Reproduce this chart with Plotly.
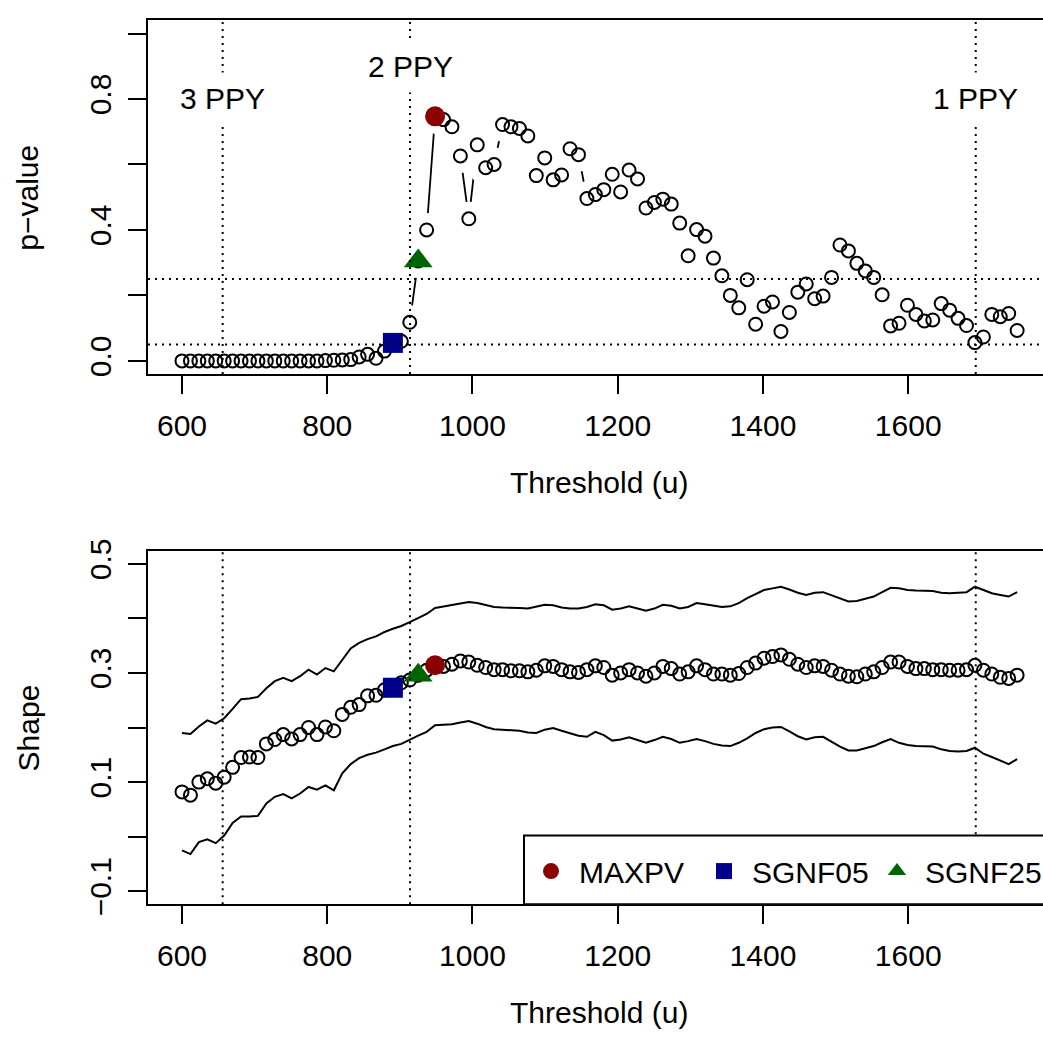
import plotly.graph_objects as go

# ---------------- data ----------------
threshold = [round(600 + i * 1150 / 99, 3) for i in range(100)]

pvalue = [
    0.000, 0.000, 0.000, 0.000, 0.000, 0.000, 0.000, 0.000, 0.000, 0.000,
    0.000, 0.000, 0.000, 0.000, 0.000, 0.000, 0.000, 0.001, 0.002, 0.003,
    0.004, 0.012, 0.020, 0.008, 0.030, 0.055, 0.060, 0.118, 0.305, 0.400,
    0.747, 0.737, 0.715, 0.626, 0.434, 0.660, 0.590, 0.600, 0.722, 0.715,
    0.710, 0.687, 0.566, 0.620, 0.553, 0.568, 0.648, 0.630, 0.496, 0.508,
    0.523, 0.570, 0.516, 0.583, 0.556, 0.467, 0.484, 0.494, 0.479, 0.421,
    0.321, 0.401, 0.381, 0.314, 0.260, 0.200, 0.162, 0.248, 0.112, 0.167,
    0.180, 0.090, 0.148, 0.210, 0.235, 0.190, 0.198, 0.255, 0.354, 0.336,
    0.298, 0.275, 0.255, 0.202, 0.107, 0.115, 0.170, 0.142, 0.122, 0.125,
    0.175, 0.155, 0.130, 0.108, 0.056, 0.073, 0.142, 0.135, 0.145, 0.093,
]

shape = [
    0.082, 0.076, 0.100, 0.106, 0.098, 0.109, 0.127, 0.145, 0.146, 0.145,
    0.170, 0.178, 0.187, 0.179, 0.187, 0.200, 0.187, 0.201, 0.194, 0.224,
    0.237, 0.242, 0.258, 0.259, 0.269, 0.273, 0.282, 0.287, 0.296, 0.305,
    0.314, 0.312, 0.316, 0.322, 0.320, 0.314, 0.310, 0.306, 0.306, 0.304,
    0.304, 0.302, 0.305, 0.313, 0.312, 0.306, 0.302, 0.301, 0.306, 0.313,
    0.310, 0.296, 0.300, 0.306, 0.300, 0.294, 0.300, 0.312, 0.308, 0.298,
    0.302, 0.313, 0.306, 0.298, 0.298, 0.296, 0.299, 0.310, 0.318, 0.327,
    0.330, 0.333, 0.325, 0.316, 0.310, 0.313, 0.312, 0.305, 0.298, 0.294,
    0.293, 0.298, 0.302, 0.310, 0.320, 0.320, 0.312, 0.308, 0.308, 0.306,
    0.306, 0.305, 0.305, 0.306, 0.314, 0.305, 0.298, 0.292, 0.290, 0.296,
]

shape_upper = [
    0.190, 0.188, 0.202, 0.213, 0.207, 0.217, 0.234, 0.252, 0.253, 0.256,
    0.272, 0.285, 0.291, 0.285, 0.294, 0.306, 0.297, 0.309, 0.303, 0.324,
    0.345, 0.355, 0.362, 0.367, 0.375, 0.381, 0.386, 0.393, 0.400, 0.408,
    0.419, 0.422, 0.425, 0.428, 0.430, 0.428, 0.425, 0.421, 0.420, 0.420,
    0.419, 0.418, 0.421, 0.425, 0.424, 0.420, 0.418, 0.418, 0.421, 0.426,
    0.424, 0.416, 0.418, 0.422, 0.418, 0.414, 0.418, 0.425, 0.423, 0.418,
    0.421, 0.428, 0.426, 0.423, 0.421, 0.422, 0.428, 0.437, 0.445, 0.452,
    0.455, 0.458, 0.453, 0.447, 0.443, 0.447, 0.448, 0.442, 0.436, 0.431,
    0.432, 0.436, 0.440, 0.448, 0.456, 0.455, 0.452, 0.451, 0.450, 0.450,
    0.447, 0.446, 0.447, 0.448, 0.458, 0.452, 0.446, 0.443, 0.440, 0.448,
]

shape_lower = [
    -0.025, -0.032, -0.010, -0.005, -0.012, 0.002, 0.025, 0.037, 0.037, 0.038,
    0.061, 0.073, 0.078, 0.070, 0.079, 0.091, 0.086, 0.094, 0.085, 0.116,
    0.133, 0.144, 0.150, 0.154, 0.160, 0.166, 0.170, 0.178, 0.185, 0.192,
    0.204, 0.205, 0.206, 0.209, 0.212, 0.207, 0.201, 0.197, 0.196, 0.196,
    0.194, 0.191, 0.190, 0.196, 0.199, 0.194, 0.189, 0.185, 0.183, 0.192,
    0.186, 0.176, 0.178, 0.182, 0.177, 0.172, 0.177, 0.183, 0.179, 0.172,
    0.175, 0.179, 0.175, 0.170, 0.167, 0.166, 0.172, 0.180, 0.190, 0.197,
    0.200, 0.201, 0.193, 0.184, 0.178, 0.182, 0.183, 0.174, 0.165, 0.158,
    0.158, 0.162, 0.166, 0.173, 0.179, 0.172, 0.168, 0.166, 0.165, 0.165,
    0.160, 0.157, 0.156, 0.157, 0.163, 0.152, 0.146, 0.140, 0.133, 0.142,
]

# selected thresholds (indices into the threshold grid)
selected_names = ["MAXPV", "SGNF05", "SGNF25"]
selected_index = [30, 25, 28]
selected_colors = ["#8B0000", "#00008B", "#006400"]
selected_symbols = ["circle", "square", "triangle-up"]
selected_sizes = [20, 20, 25]

ppy_labels = ["3 PPY", "2 PPY", "1 PPY"]
ppy_thresholds = [656, 914, 1693]
ppy_label_y = [0.80, 0.90, 0.80]

pvalue_levels = [0.05, 0.25]

x_ticks = [600, 800, 1000, 1200, 1400, 1600]
p_ticks = [0.0, 0.2, 0.4, 0.6, 0.8, 1.0]
p_ticktext = ["0.0", "", "0.4", "", "0.8", ""]
s_ticks = [-0.1, 0.0, 0.1, 0.2, 0.3, 0.4, 0.5]
s_ticktext = ["\u22120.1", "", "0.1", "", "0.3", "", "0.5"]

# ---------------- figure ----------------
W, H = 1043, 1059
FONT = "Liberation Sans"
FS = 30

fig = go.Figure()

def add_b_series(xs, ys, xa, ya):
    # R type="b": lines with gaps around points
    fig.add_trace(go.Scatter(x=xs, y=ys, mode="lines", xaxis=xa, yaxis=ya,
                             line=dict(color="black", width=1.8),
                             showlegend=False, hoverinfo="skip"))
    fig.add_trace(go.Scatter(x=xs, y=ys, mode="markers", xaxis=xa, yaxis=ya,
                             marker=dict(symbol="circle", size=34, color="white",
                                         line=dict(width=0)),
                             showlegend=False, hoverinfo="skip"))
    fig.add_trace(go.Scatter(x=xs, y=ys, mode="markers", xaxis=xa, yaxis=ya,
                             marker=dict(symbol="circle-open", size=13, color="black",
                                         line=dict(width=2, color="black")),
                             showlegend=False))

# top panel
add_b_series(threshold, pvalue, "x", "y")
# bottom panel: confidence band lines
fig.add_trace(go.Scatter(x=threshold, y=shape_upper, mode="lines", xaxis="x2", yaxis="y2",
                         line=dict(color="black", width=2), showlegend=False))
fig.add_trace(go.Scatter(x=threshold, y=shape_lower, mode="lines", xaxis="x2", yaxis="y2",
                         line=dict(color="black", width=2), showlegend=False))
add_b_series(threshold, shape, "x2", "y2")

for name, idx, col, sym, sz in zip(selected_names, selected_index, selected_colors,
                                   selected_symbols, selected_sizes):
    fig.add_trace(go.Scatter(x=[threshold[idx]], y=[pvalue[idx]], mode="markers",
                             xaxis="x", yaxis="y",
                             marker=dict(symbol=sym, size=sz, color=col),
                             showlegend=False, name=name))
    fig.add_trace(go.Scatter(x=[threshold[idx]], y=[shape[idx]], mode="markers",
                             xaxis="x2", yaxis="y2",
                             marker=dict(symbol=sym, size=sz, color=col),
                             showlegend=True, name=name))

# ---------------- layout ----------------
ML = 148
PW = W - ML
px_per_u = 0.7262
x_lo = 600 - (182 - ML) / px_per_u
x_hi = 600 + (W - 182) / px_per_u

top_dom = [1 - 370.4 / H, 1 - 8.6 / H]
bot_dom = [1 - 913.0 / H, 1 - 551.2 / H]

axis_common = dict(showgrid=False, zeroline=False, showline=True, linecolor="black",
                   linewidth=2, ticks="outside", ticklen=18, tickwidth=2,
                   tickcolor="black", tickfont=dict(family=FONT, size=FS, color="black"))

fig.update_layout(
    width=W, height=H,
    margin=dict(l=ML, r=0, t=0, b=0),
    paper_bgcolor="white", plot_bgcolor="white",
    font=dict(family=FONT, size=FS, color="black"),
    xaxis=dict(domain=[0, 1], range=[x_lo, x_hi], anchor="y", tickvals=x_ticks,
               mirror=True, ticklabelstandoff=6, **axis_common),
    yaxis=dict(domain=top_dom, range=[-0.04, 1.04], anchor="x", tickvals=p_ticks,
               ticktext=p_ticktext, tickangle=-90, ticklabelstandoff=5, **axis_common),
    xaxis2=dict(domain=[0, 1], range=[x_lo, x_hi], anchor="y2", tickvals=x_ticks,
                mirror=True, ticklabelstandoff=6, **axis_common),
    yaxis2=dict(domain=bot_dom, range=[-0.124, 0.524], anchor="x2", tickvals=s_ticks,
                ticktext=s_ticktext, tickangle=-90, ticklabelstandoff=5, **axis_common),
    legend=dict(orientation="h", x=(523 - ML) / PW, xanchor="left",
                y=1 - 879 / H, yanchor="middle", bgcolor="rgba(0,0,0,0)",
                borderwidth=0, font=dict(family=FONT, size=FS, color="black"),
                itemsizing="trace", traceorder="normal", itemwidth=46,
                entrywidth=112),
    showlegend=True,
)

dot = dict(color="black", width=2, dash="2px,5px")
shapes = []
for xv in ppy_thresholds:
    for xr, yr in (("x", "y domain"), ("x2", "y2 domain")):
        shapes.append(dict(type="line", xref=xr, yref=yr, x0=xv, x1=xv, y0=0, y1=1,
                           line=dot, layer="above"))
for lv in pvalue_levels:
    shapes.append(dict(type="line", xref="x domain", yref="y", x0=0, x1=1, y0=lv, y1=lv,
                       line=dot, layer="above"))
# legend box (bottom right of lower panel)
shapes.append(dict(type="rect", xref="x2", yref="y2", x0=600 + (524 - 182) / px_per_u,
                   x1=x_hi + 30, y0=-0.124, y1=0.5 - (843 - 565) / 558.3,
                   fillcolor="white", line=dict(color="black", width=2), layer="above"))
fig.update_layout(shapes=shapes)

ann = []
for lab, xv, yv in zip(ppy_labels, ppy_thresholds, ppy_label_y):
    ann.append(dict(text=lab, x=xv, y=yv, xref="x", yref="y", showarrow=False,
                    xanchor="center", yanchor="middle",
                    bgcolor="white", borderpad=9, font=dict(family=FONT, size=FS)))
title_common = dict(xref="paper", yref="paper", showarrow=False, xanchor="center",
                    yanchor="middle", font=dict(family=FONT, size=FS))
ann.append(dict(text="Threshold (u)", x=(599 - ML) / PW, y=1 - 481 / H, **title_common))
ann.append(dict(text="Threshold (u)", x=(599 - ML) / PW, y=1 - 1024 / H, **title_common))
ann.append(dict(text="p\u2212value", x=(28 - ML) / PW, y=1 - 190 / H, textangle=-90,
                **title_common))
ann.append(dict(text="Shape", x=(28 - ML) / PW, y=1 - 733 / H, textangle=-90,
                **title_common))
fig.update_layout(annotations=ann)

fig.write_html("out.html", post_script="document.body.style.margin='0px';",
               config={"displayModeBar": False})
